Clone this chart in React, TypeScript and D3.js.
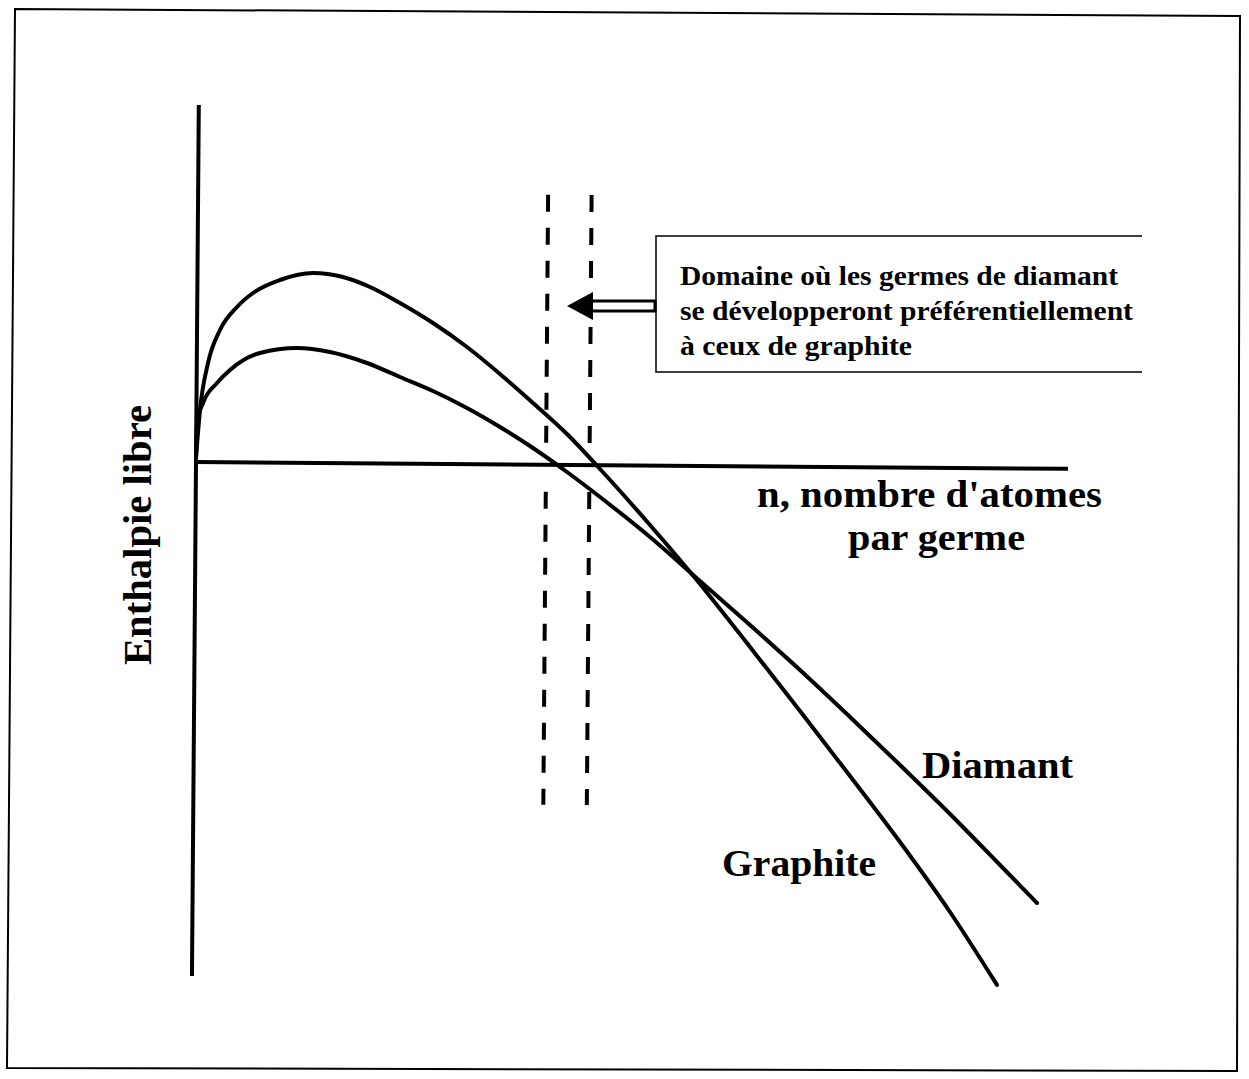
import * as d3 from "d3";

// values (n and G in arbitrary units)
const graphiteN = [0, 0.4, 1.2, 2.4, 4.1, 5.7, 8.4, 11.7, 14.7, 17.4, 20.4, 23.7, 27.1, 30.4, 33.7, 37.1, 40.4, 45.4, 50.4, 55.4, 60.4, 65.4, 70.4, 75.4, 80.1];
const graphiteG = [0.4, 5.2, 9.9, 13.2, 15.5, 16.9, 18.2, 18.9, 18.5, 17.5, 15.9, 13.9, 11.5, 8.8, 5.9, 2.8, -0.7, -6.3, -12.2, -18.5, -24.9, -31.4, -38.0, -45.0, -52.3];

const diamantN = [0, 0.1, 0.7, 2.1, 3.4, 6.4, 10.1, 13.4, 17.1, 20.4, 23.7, 27.1, 30.4, 33.7, 37.1, 40.4, 45.4, 50.4, 55.4, 60.4, 65.4, 70.4, 75.4, 80.4, 84.1];
const diamantG = [0.4, 3.9, 5.9, 7.9, 9.2, 10.9, 11.4, 11.0, 9.9, 8.5, 7.1, 5.4, 3.5, 1.4, -1.0, -3.5, -7.5, -11.9, -16.3, -20.8, -25.5, -30.3, -35.2, -40.3, -44.1];

// bounds of the domain where diamond nuclei grow preferentially
const domainN = [35.0, 39.35];
const domainG = [27.0, -34.0];

const axisN = [0, 87.2];
const axisG = [35.7, -51.4];

const boxLines = [
  "Domaine où les germes de diamant",
  "se développeront préférentiellement",
  "à ceux de graphite",
];
const boxLineWidths = [438, 453, 232];

const W = 1249;
const H = 1079;
const FONT = "'Liberation Serif', 'Times New Roman', serif";

export default function App() {
  const x = d3.scaleLinear().domain([0, 87.2]).range([196, 1068]);
  const y = d3.scaleLinear().domain([-53, 36]).range([992, 102]);

  const line = d3
    .line<[number, number]>()
    .x((d) => x(d[0]))
    .y((d) => y(d[1]))
    .curve(d3.curveMonotoneX);

  const graphite = graphiteN.map((n, i) => [n, graphiteG[i]] as [number, number]);
  const diamant = diamantN.map((n, i) => [n, diamantG[i]] as [number, number]);

  // dash pattern, one dash missing where the lines cross the axis
  const dashes: number[] = [];
  for (let k = 0; k < 18; k++) {
    dashes.push(17, k === 7 ? 49 : 16);
  }

  const tilt = `rotate(0.45, ${x(0)}, ${y(0)})`;

  return (
    <svg
      width={W}
      height={H}
      style={{ position: "absolute", left: 0, top: 0, background: "#fff" }}
    >
      <rect width={W} height={H} fill="#fff" />
      {/* page frame */}
      <polygon
        points="15,9 1240,16 1237,1071 7,1068"
        fill="none"
        stroke="#000"
        strokeWidth={2}
      />

      <g transform={tilt}>
        <line
          x1={x(0)}
          x2={x(0)}
          y1={y(axisG[0])}
          y2={y(axisG[1])}
          stroke="#000"
          strokeWidth={4}
        />
        <line
          x1={x(axisN[0])}
          x2={x(axisN[1])}
          y1={y(0)}
          y2={y(0)}
          stroke="#000"
          strokeWidth={4}
        />
        {domainN.map((n) => (
          <line
            key={n}
            x1={x(n)}
            x2={x(n)}
            y1={y(domainG[0])}
            y2={y(domainG[1])}
            stroke="#000"
            strokeWidth={4}
            strokeDasharray={dashes.join(" ")}
          />
        ))}
      </g>

      <path
        d={line(graphite) ?? ""}
        fill="none"
        stroke="#000"
        strokeWidth={4}
        strokeLinecap="round"
      />
      <path
        d={line(diamant) ?? ""}
        fill="none"
        stroke="#000"
        strokeWidth={4}
        strokeLinecap="round"
      />

      {/* annotation box, open on the right */}
      <path
        d="M1142,236 H656 V372 H1142"
        fill="none"
        stroke="#000"
        strokeWidth={1.5}
      />
      <g fontFamily={FONT} fontWeight="bold" fontSize={28} fill="#000">
        {boxLines.map((t, i) => (
          <text
            key={t}
            x={680}
            y={285 + i * 35}
            textLength={boxLineWidths[i]}
            lengthAdjust="spacingAndGlyphs"
          >
            {t}
          </text>
        ))}
      </g>

      {/* arrow pointing at the domain */}
      <rect
        x={591}
        y={301}
        width={64}
        height={10}
        fill="#fff"
        stroke="#000"
        strokeWidth={3}
      />
      <polygon points="567,306 593,292 593,320" fill="#000" />

      <g fontFamily={FONT} fontWeight="bold" fill="#000">
        <text x={757} y={507} fontSize={37} textLength={345} lengthAdjust="spacingAndGlyphs">
          n, nombre d'atomes
        </text>
        <text x={848} y={550} fontSize={37} textLength={177} lengthAdjust="spacingAndGlyphs">
          par germe
        </text>
        <text x={922} y={778} fontSize={38} textLength={151} lengthAdjust="spacingAndGlyphs">
          Diamant
        </text>
        <text x={722} y={876} fontSize={37} textLength={154} lengthAdjust="spacingAndGlyphs">
          Graphite
        </text>
        <text
          transform="translate(151,665) rotate(-90)"
          fontSize={40}
          textLength={260}
          lengthAdjust="spacingAndGlyphs"
        >
          Enthalpie libre
        </text>
      </g>
    </svg>
  );
}
